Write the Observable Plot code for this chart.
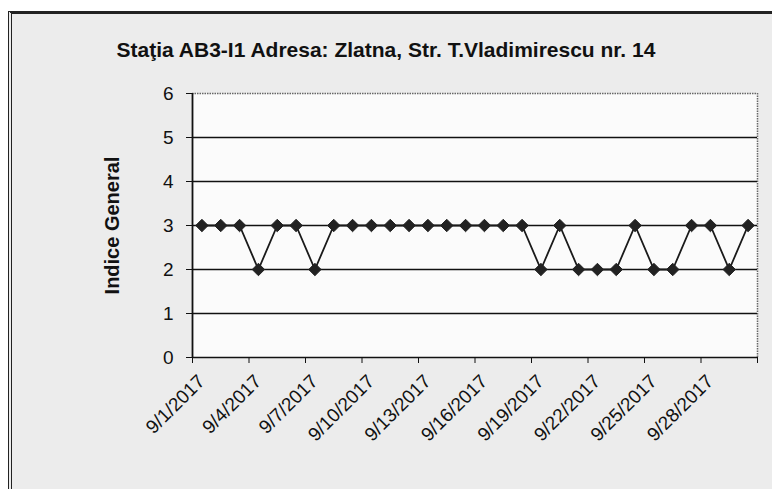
<!DOCTYPE html>
<html>
<head>
<meta charset="utf-8">
<script src="https://cdn.jsdelivr.net/npm/d3@7"></script>
<script src="https://cdn.jsdelivr.net/npm/@observablehq/plot@0.6"></script>
<style>
  html, body { margin: 0; padding: 0; background: #ffffff; }
  #wrap { position: relative; width: 772px; height: 489px; overflow: hidden; font-family: "Liberation Sans", Arial, sans-serif; }
  #box { position: absolute; left: 8px; top: 11px; width: 780px; height: 500px; border-left: 4px double #222; border-top: 3px solid #222; background: #ececec; }
  #title { position: absolute; left: 0; top: 38px; width: 772px; text-align: center; font-weight: bold; font-size: 21px; color: #111; }
  #chart { position: absolute; left: 0; top: 0; }
</style>
</head>
<body>
<div id="wrap">
  <div id="box"></div>
  <div id="title">Staţia AB3-I1 Adresa: Zlatna, Str. T.Vladimirescu nr. 14</div>
  <div id="chart"></div>
</div>
<script>
const dates = [
  "2017-09-01","2017-09-02","2017-09-03","2017-09-04","2017-09-05","2017-09-06",
  "2017-09-07","2017-09-08","2017-09-09","2017-09-10","2017-09-11","2017-09-12",
  "2017-09-13","2017-09-14","2017-09-15","2017-09-16","2017-09-17","2017-09-18",
  "2017-09-19","2017-09-20","2017-09-21","2017-09-22","2017-09-23","2017-09-24",
  "2017-09-25","2017-09-26","2017-09-27","2017-09-28","2017-09-29","2017-09-30"
];
const values = [3,3,3,2,3,3,2,3,3,3,3,3,3,3,3,3,3,3,2,3,2,2,2,3,2,2,3,3,2,3];
const tickLabels = ["9/1/2017","9/4/2017","9/7/2017","9/10/2017","9/13/2017",
  "9/16/2017","9/19/2017","9/22/2017","9/25/2017","9/28/2017"];
const yTicks = [0,1,2,3,4,5,6];
const gridLines = [1,2,3,4,5];
const yLabel = "Indice General";

const HALF = 12 * 3600 * 1000;
const parsed = dates.map(s => new Date(s + "T00:00:00Z"));
const data = parsed.map((d, i) => ({date: d, value: values[i]}));
const labelDates = tickLabels.map(s => { const [m, d, y] = s.split("/").map(Number); return new Date(Date.UTC(y, m - 1, d)); });
const bounds = parsed.filter((d, i) => i % 3 === 0).map(d => new Date(+d - HALF)).concat([new Date(+parsed[parsed.length - 1] + HALF)]);
const x0 = new Date(+parsed[0] - HALF), x1 = new Date(+parsed[parsed.length - 1] + HALF);

const chart = Plot.plot({
  width: 772,
  height: 489,
  marginLeft: 192,
  marginRight: 15,
  marginTop: 93,
  marginBottom: 132,
  style: {background: "transparent", fontFamily: "Liberation Sans, Arial, sans-serif", color: "#111"},
  x: {type: "utc", domain: [x0, x1]},
  y: {domain: [0, 6]},
  marks: [
    Plot.frame({fill: "#fbfbfb", stroke: null}),
    Plot.ruleY([6], {stroke: "#666", strokeWidth: 1.5, strokeDasharray: "1.5,1"}),
    Plot.ruleX([x1], {stroke: "#666", strokeWidth: 1.5, strokeDasharray: "1.5,1"}),
    Plot.ruleY(gridLines, {stroke: "#111", strokeWidth: 1.3}),
    Plot.ruleY([0], {stroke: "#111", strokeWidth: 1.6}),
    Plot.ruleX([x0], {stroke: "#111", strokeWidth: 1.8}),
    Plot.axisY({ticks: yTicks, tickSize: 6, tickPadding: 13, tickFormat: d => String(d), fontSize: 19, label: null, stroke: "#111"}),
    Plot.axisX({ticks: bounds, tickSize: 6, tickFormat: () => "", label: null, stroke: "#111"}),
    Plot.text(tickLabels, {x: (d, i) => labelDates[i], text: d => d, frameAnchor: "bottom", rotate: -45, textAnchor: "end", dx: 4, dy: 25, fontSize: 19, fill: "#111"}),
    Plot.text([yLabel], {frameAnchor: "left", textAnchor: "middle", dx: -80, rotate: -90, text: d => d, fontSize: 20, fontWeight: "bold", fill: "#111"}),
    Plot.line(data, {x: "date", y: "value", stroke: "#1a1a1a", strokeWidth: 1.8}),
    Plot.dot(data, {x: "date", y: "value", symbol: "diamond2", r: 5.6, fill: "#222", stroke: "#222", strokeWidth: 1})
  ]
});
document.getElementById("chart").appendChild(chart);
</script>
</body>
</html>
